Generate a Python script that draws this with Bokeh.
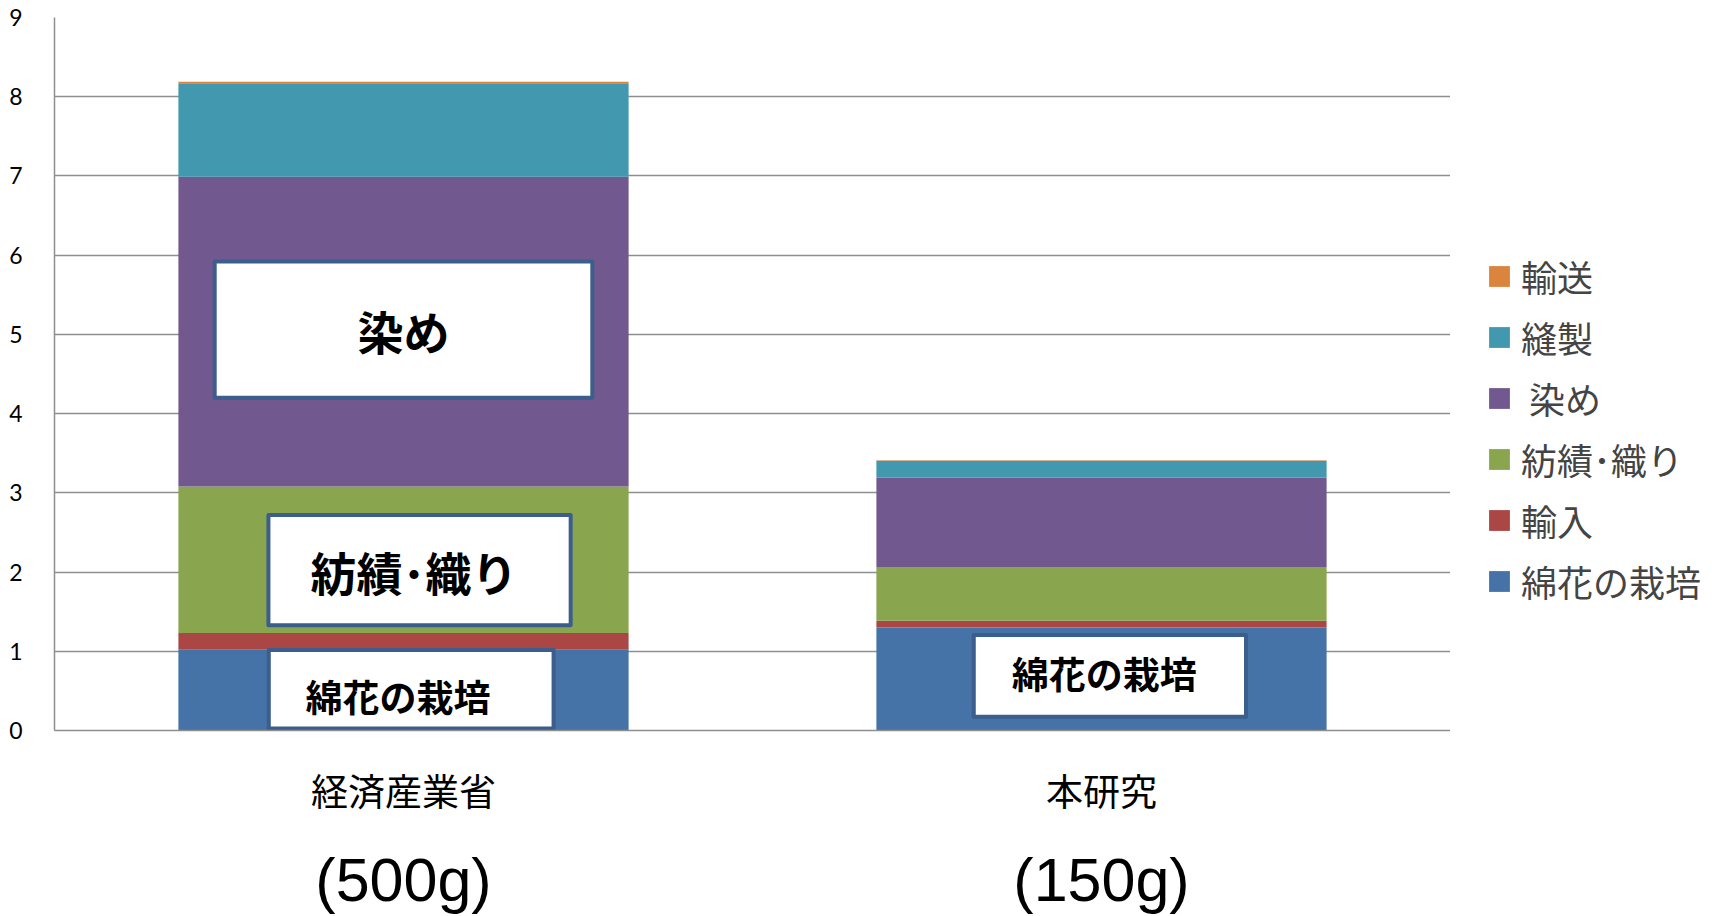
from bokeh.plotting import figure
from bokeh.layouts import row
from bokeh.models import (ColumnDataSource, FactorRange, FixedTicker, CategoricalAxis,
                          Legend, LegendItem)
from bokeh.transform import dodge
from bokeh.core.properties import value
from bokeh.embed import file_html
from bokeh.resources import INLINE

# --- data -------------------------------------------------------------
categories = ["経済産業省", "本研究"]
weights = ["(500g)", "(150g)"]
stages = ["綿花の栽培", "輸入", "紡績･織り", "染め", "縫製", "輸送"]
legend_names = ["綿花の栽培", "輸入", "紡績･織り", " 染め", "縫製", "輸送"]
cotton = [1.02, 1.30]
imports = [0.21, 0.085]
spinning = [1.85, 0.68]
dyeing = [3.91, 1.13]
sewing = [1.18, 0.21]
transport = [0.02, 0.005]
y_ticks = list(range(0, 10))

colors = ["#4572A7", "#AA4643", "#89A54E", "#71588F", "#4198AF", "#DB843D"]

source = ColumnDataSource(dict(cat=categories, **dict(zip(stages, [cotton, imports, spinning, dyeing, sewing, transport]))))

CJK = "Noto Sans CJK JP"
GRID = "#8e8e8e"

# --- main chart -------------------------------------------------------
p = figure(x_range=FactorRange(*categories), y_range=(0, 9),
           width=1450, height=916, output_backend="svg", toolbar_location=None,
           min_border_left=54, min_border_right=0, min_border_top=17, min_border_bottom=186)
p.outline_line_color = None
p.background_fill_color = "white"
p.extra_x_ranges = {"weights": FactorRange(*weights)}

p.vbar_stack(stages, x="cat", width=0.645, color=colors, line_color=None, source=source)

p.xgrid.grid_line_color = None
p.ygrid.grid_line_color = GRID
p.ygrid.grid_line_width = 1.5
p.yaxis.ticker = FixedTicker(ticks=y_ticks)
p.yaxis.axis_line_color = GRID
p.yaxis.axis_line_width = 1.5
p.yaxis.major_tick_line_color = None
p.yaxis.minor_tick_line_color = None
p.yaxis.major_label_standoff = 26
p.yaxis.major_label_text_font = "Lato"
p.yaxis.major_label_text_font_size = "23px"
p.yaxis.major_label_text_color = "black"

p.xaxis.axis_line_color = GRID
p.xaxis.axis_line_width = 1.5
p.xaxis.major_tick_line_color = None
p.xaxis.major_label_standoff = 26
p.xaxis.major_label_text_font = CJK
p.xaxis.major_label_text_font_size = "37px"
p.xaxis.major_label_text_color = "black"

wax = CategoricalAxis(x_range_name="weights")
wax.axis_line_color = None
wax.major_tick_line_color = None
wax.major_label_standoff = 20
wax.major_label_text_font = "Liberation Sans"
wax.major_label_text_font_size = "61px"
wax.major_label_text_color = "black"
p.add_layout(wax, "below")

# callout boxes naming the main stages
callouts = [
    # category, text, box_dx, box_y, box_w, box_h, text_dx, text_y, font size
    (categories[0], "染め", 0.0, 5.06, 0.541, 1.72, 0.0, 5.05, "46px"),
    (categories[0], "紡績･織り", 0.023, 2.025, 0.433, 1.39, 0.015, 2.01, "46px"),
    (categories[0], "綿花の栽培", 0.011, 0.52, 0.408, 0.99, -0.008, 0.43, "37px"),
    (categories[1], "綿花の栽培", 0.012, 0.69, 0.39, 1.03, 0.004, 0.72, "37px"),
]
for cat, txt, bdx, by, bw, bh, tdx, ty, fs in callouts:
    src = ColumnDataSource(dict(cat=[cat], y=[by], ty=[ty], t=[txt]))
    p.rect(x=dodge("cat", bdx, range=p.x_range), y="y", width=bw, height=bh, source=src,
           fill_color="white", line_color="#3B5E8C", line_width=4, line_join="round")
    p.text(x=dodge("cat", tdx, range=p.x_range), y="ty", text="t", source=src,
           text_font=value(CJK), text_font_style="bold", text_font_size=fs,
           text_align="center", text_baseline="middle", text_color="black")

# --- legend panel on the right ---------------------------------------
lp = figure(x_range=FactorRange(*categories), y_range=(0, 9),
            width=271, height=916, output_backend="svg", toolbar_location=None,
            x_axis_location=None, y_axis_location=None,
            min_border_left=0, min_border_right=0, min_border_top=0, min_border_bottom=0)
lp.outline_line_color = None
lp.grid.grid_line_color = None
keys = lp.vbar_stack(stages, x="cat", width=0.645, color=colors, line_color=None, source=source)
for r in keys:
    r.visible = False

items = [LegendItem(label=n, renderers=[r]) for n, r in zip(legend_names, keys)][::-1]
legend = Legend(items=items, location=(36, 122), orientation="vertical",
                glyph_width=26, glyph_height=26, label_height=54, spacing=7,
                label_standoff=9, padding=0, margin=0,
                label_text_font=CJK, label_text_font_size="36px",
                border_line_color=None, background_fill_alpha=0)
lp.add_layout(legend, "center")

open("out.html", "w").write(file_html(row(p, lp), INLINE))
